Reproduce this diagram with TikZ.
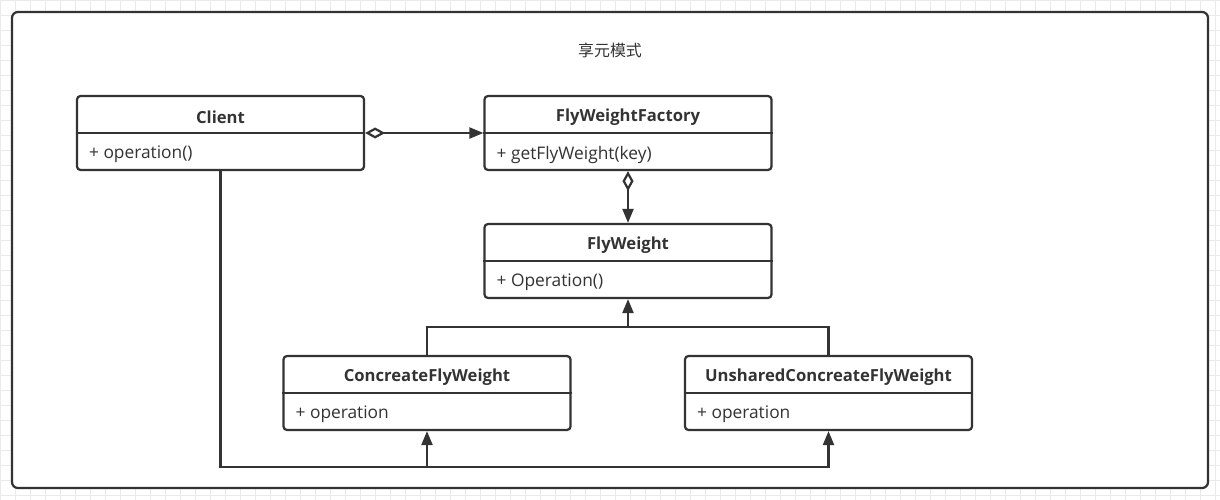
\documentclass[tikz,border=0pt]{standalone}
\usepackage{fontspec}
\setmainfont{Open Sans}
\newfontfamily\cjk{Noto Sans CJK SC}
\usetikzlibrary{arrows.meta,calc}
\definecolor{ink}{HTML}{333333}
\definecolor{gridc}{HTML}{EAEAEA}
\tikzset{
  ln/.style={draw=ink, line width=1.9pt},
  cls/.style={ln, rounded corners=3pt, fill=white, minimum width=8.61cm, minimum height=2.22cm, inner sep=0pt},
  ttl/.style={text=ink, font=\fontsize{14.2}{16}\selectfont\bfseries, inner sep=0pt},
  mem/.style={text=ink, font=\fontsize{14.8}{17}\selectfont, inner sep=0pt, anchor=west},
  tri/.style={-{Triangle[length=0.42cm,width=0.33cm]}},
  agg/.style={{Diamond[open,fill=white,length=0.6cm,width=0.33cm]}-{Triangle[length=0.42cm,width=0.33cm]}},
}
\newcommand{\umlclass}[5]{%
  \node[cls] (#1) at (#2,#3) {};
  \draw[ln] ([yshift=-1.14cm]#1.north west) -- ([yshift=-1.14cm]#1.north east);
  \node[ttl] (#1-t) at ([yshift=-0.66cm]#1.north) {#4};
  \node[mem] (#1-m) at ([xshift=0.39cm,yshift=-1.79cm]#1.north west) {#5};
}
\begin{document}
\begin{tikzpicture}[x=0.03cm,y=-0.03cm]
\useasboundingbox (0,0) rectangle (1220,500);
\fill[white] (0,0) rectangle (1220,500);
\draw[gridc, line width=0.6pt, step=0.45cm] (0,0) grid (1220,500);
\draw[ln, rounded corners=5pt, fill=white] (12,12) rectangle (1208,488);
\node[text=ink, font=\cjk\fontsize{13.6}{16}\selectfont] (title) at (610,50) {享元模式};
\umlclass{client}{220.5}{133}{Client}{+ operation()}
\umlclass{factory}{628}{133}{FlyWeightFactory}{+ getFlyWeight(key)}
\umlclass{fly}{628}{261}{FlyWeight}{+ Operation()}
\umlclass{conc}{427}{393}{ConcreateFlyWeight}{+ operation}
\umlclass{uns}{828.5}{393}{UnsharedConcreateFlyWeight}{+ operation}
\draw[ln, agg] (client.east) -- (factory.west);
\draw[ln, agg] (factory.south) -- (fly.north);
\coordinate (j) at (628,327);
\draw[ln] (conc.north) |- (j) -| (uns.north);
\draw[ln, tri] (j) -- (fly.south);
\coordinate (cb) at (427,467);
\draw[ln, tri] (client.south) |- (cb) -- (conc.south);
\draw[ln, tri] (cb) -| (uns.south);
\end{tikzpicture}
\end{document}
